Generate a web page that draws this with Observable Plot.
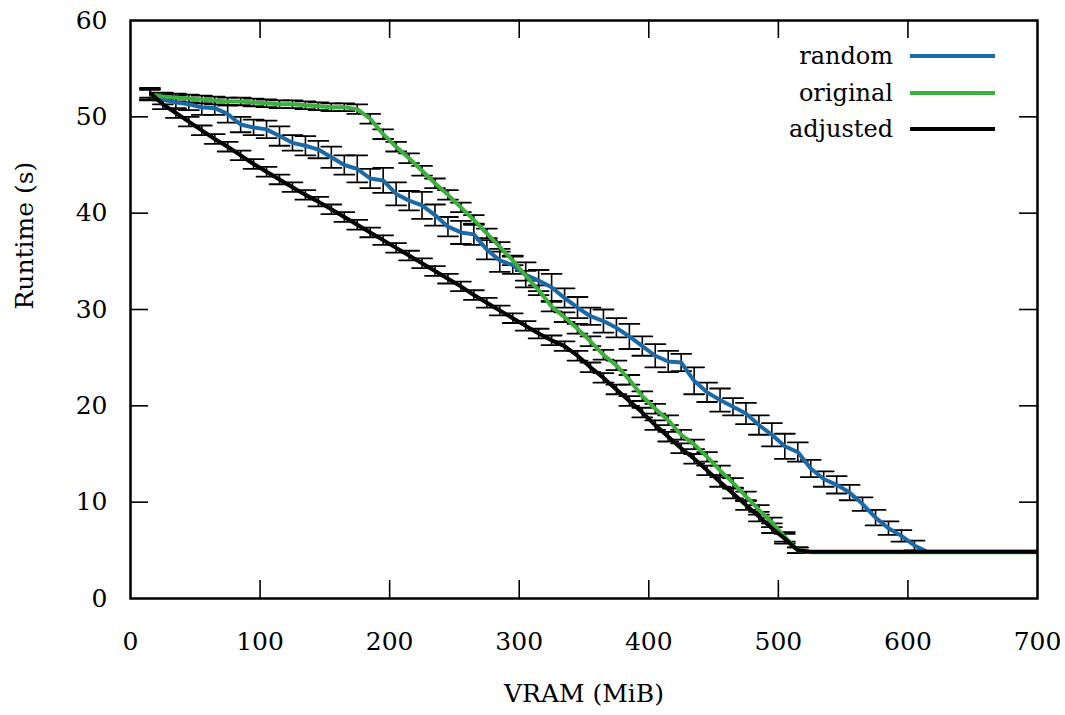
<!DOCTYPE html>
<html><head><meta charset="utf-8">
<script src="https://cdn.jsdelivr.net/npm/d3@7"></script>
<script src="https://cdn.jsdelivr.net/npm/@observablehq/plot@0.6"></script>
<style>
body{margin:0;background:#fff}
#chart{position:relative;width:1065px;height:715px}
</style>
</head><body><div id="chart"></div>
<script>
const vram = [15,25,35,45,55,65,75,85,95,105,115,125,135,145,155,165,175,185,195,205,215,225,235,245,255,265,275,285,295,305,315,325,335,345,355,365,375,385,395,405,415,425,435,445,455,465,475,485,495,505,515,525,535,545,555,565,575,585,595,605,615,625,635,645,655,665,675,685,695,700];

const random = [52.3,51.8,51.5,51.3,51.0,50.9,50.3,49.2,48.9,48.7,48.0,47.3,47.0,46.6,45.8,45.0,44.6,43.6,43.4,42.0,41.3,40.8,39.8,38.6,38.0,37.8,36.2,35.1,34.6,33.6,33.0,32.3,31.2,30.2,29.3,28.8,28.1,27.2,26.2,25.2,24.6,24.5,22.6,21.4,20.6,19.9,19.2,18.0,17.0,15.8,15.2,13.5,12.4,11.8,11.0,9.8,8.4,7.3,6.5,5.5,4.85,4.85,4.85,4.85,4.85,4.85,4.85,4.85,4.85,4.85];
const randomErr = [0.6,0.5,0.7,0.6,0.8,0.7,0.9,0.8,0.8,0.9,1.0,0.8,1.0,0.9,1.1,1.0,1.4,1.0,1.3,1.2,1.0,1.4,1.1,1.0,1.2,1.1,1.0,1.2,0.9,1.3,1.1,1.4,1.0,1.1,0.9,1.2,1.0,1.3,1.0,1.2,1.1,0.9,1.4,1.0,1.2,0.9,1.1,1.0,1.2,1.3,1.0,0.9,0.8,0.9,0.8,0.7,0.8,0.7,0.6,0.5,0,0,0,0,0,0,0,0,0,0];

const original = [52.3,52.1,52.0,51.9,51.8,51.7,51.6,51.6,51.5,51.4,51.3,51.3,51.2,51.1,51.0,51.0,50.8,49.8,48.2,46.9,45.7,44.4,43.1,41.9,40.6,39.3,37.9,36.5,35.1,33.5,32.0,30.3,29.2,28.0,26.7,25.3,24.2,22.7,21.0,19.7,18.5,17.0,16.0,14.7,13.3,12.0,10.6,9.2,7.9,6.4,5.0,4.8,4.8,4.8,4.8,4.8,4.8,4.8,4.8,4.8,4.8,4.8,4.8,4.8,4.8,4.8,4.8,4.8,4.8,4.8];
const originalErr = [0.5,0.4,0.4,0.4,0.4,0.4,0.4,0.4,0.4,0.4,0.4,0.4,0.4,0.4,0.4,0.4,0.5,0.5,0.5,0.5,0.5,0.5,0.5,0.5,0.5,0.5,0.5,0.5,0.5,0.5,0.5,0.5,0.5,0.5,0.5,0.5,0.5,0.5,0.5,0.5,0.5,0.5,0.5,0.5,0.5,0.5,0.5,0.5,0.5,0.5,0.3,0,0,0,0,0,0,0,0,0,0,0,0,0,0,0,0,0,0,0];

const adjusted = [52.5,51.3,50.4,49.5,48.6,47.7,46.9,46.0,45.1,44.3,43.5,42.7,41.9,41.2,40.4,39.6,38.8,38.0,37.2,36.4,35.6,34.8,34.0,33.2,32.4,31.5,30.7,29.9,29.1,28.3,27.5,26.8,26.2,25.2,24.0,22.9,21.7,20.5,19.3,18.0,16.8,15.6,14.5,13.3,12.1,10.9,9.7,8.5,7.3,6.2,5.0,4.85,4.85,4.85,4.85,4.85,4.85,4.85,4.85,4.85,4.85,4.85,4.85,4.85,4.85,4.85,4.85,4.85,4.85,4.85];
const adjustedErr = [0.5,0.5,0.5,0.5,0.5,0.5,0.5,0.5,0.5,0.5,0.5,0.5,0.5,0.5,0.5,0.5,0.5,0.5,0.5,0.5,0.5,0.5,0.5,0.5,0.5,0.5,0.5,0.5,0.5,0.5,0.5,0.5,0.5,0.5,0.5,0.5,0.5,0.5,0.5,0.5,0.5,0.5,0.5,0.5,0.5,0.5,0.5,0.5,0.5,0.5,0.3,0,0,0,0,0,0,0,0,0,0,0,0,0,0,0,0,0,0,0];

const seriesNames = ["random", "original", "adjusted"];
const seriesColors = ["#1a69a9", "#3daf3d", "#000000"];
const xTicks = [0,100,200,300,400,500,600,700];
const yTicks = [0,10,20,30,40,50,60];
const xLabel = "VRAM (MiB)";
const yLabel = "Runtime (s)";

const seriesValues = [random, original, adjusted];
const seriesErrs = [randomErr, originalErr, adjustedErr];
const rows = [];
seriesNames.forEach((name, s) => {
  vram.forEach((x, i) => rows.push({series: name, x, y: seriesValues[s][i], e: seriesErrs[s][i]}));
});
const errRows = rows.filter(d => d.e > 0);

const W = 1065, H = 715, mL = 130, mR = 28, mT = 20, mB = 117;
const fw = W - mL - mR, fh = H - mT - mB, tk = 18;
const capShape = {draw(ctx, l) { ctx.moveTo(0, 0); ctx.lineTo(0, -l); }};
const font = "DejaVu Serif";
const innerX = xTicks.slice(1, -1), innerY = yTicks.slice(1, -1);

const chart = Plot.plot({
  width: W, height: H,
  marginLeft: mL, marginRight: mR, marginTop: mT, marginBottom: mB,
  style: {fontFamily: font, fontSize: "25px", background: "#fff", color: "#000"},
  x: {domain: [0, 700]},
  y: {domain: [0, 60]},
  color: {domain: seriesNames, range: seriesColors},
  marks: [
    Plot.axisX(xTicks, {anchor: "bottom", tickSize: 0, tickPadding: 34, label: null, fontSize: 25, tickFormat: d => String(d)}),
    Plot.axisY(yTicks, {anchor: "left", tickSize: 0, tickPadding: 23, label: null, fontSize: 25, tickFormat: d => String(d)}),
    Plot.tickX(innerX, {x: d => d, insetTop: fh - tk, stroke: "#000", strokeWidth: 1.6}),
    Plot.tickX(innerX, {x: d => d, insetBottom: fh - tk, stroke: "#000", strokeWidth: 1.6}),
    Plot.tickY(innerY, {y: d => d, insetRight: fw - tk, stroke: "#000", strokeWidth: 1.6}),
    Plot.tickY(innerY, {y: d => d, insetLeft: fw - tk, stroke: "#000", strokeWidth: 1.6}),
    Plot.ruleX(errRows, {x: "x", y1: d => d.y - d.e, y2: d => d.y + d.e, stroke: "#000", strokeWidth: 1.6}),
    Plot.vector(errRows, {x: "x", y: d => d.y + d.e, rotate: 90, length: 20, anchor: "middle", shape: capShape, stroke: "#000", strokeWidth: 1.8}),
    Plot.vector(errRows, {x: "x", y: d => d.y - d.e, rotate: 90, length: 20, anchor: "middle", shape: capShape, stroke: "#000", strokeWidth: 1.8}),
    Plot.line(rows, {x: "x", y: "y", z: "series", stroke: "series", strokeWidth: 4, strokeLinejoin: "round", strokeLinecap: "butt"}),
    Plot.frame({stroke: "#000", strokeWidth: 2.5}),
    Plot.text([yLabel], {frameAnchor: "left", dx: -106, rotate: -90, text: d => d, fontSize: 25, fill: "#000"}),
    Plot.text([xLabel], {frameAnchor: "bottom", dy: 103, text: d => d, fontSize: 25, fill: "#000"})
  ]
});

const svg = d3.select(chart);
const leg = svg.append("g").attr("font-family", font).attr("font-size", 24);
const legY = [56, 93, 129];
seriesNames.forEach((name, i) => {
  leg.append("text").attr("x", 893).attr("y", legY[i]).attr("dy", "0.35em")
    .attr("text-anchor", "end").attr("fill", "#000").text(name);
  leg.append("line").attr("x1", 910).attr("x2", 995).attr("y1", legY[i]).attr("y2", legY[i])
    .attr("stroke", seriesColors[i]).attr("stroke-width", 4);
});

document.getElementById("chart").appendChild(chart);
</script>
</body></html>
